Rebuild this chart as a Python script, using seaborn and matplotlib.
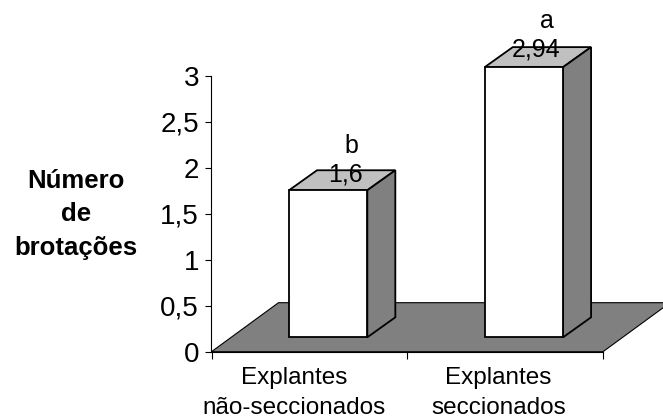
"""Number of shoots per explant type, drawn as a pseudo-3D bar chart."""

import matplotlib

matplotlib.use("Agg")
import matplotlib.pyplot as plt
import pandas as pd
import seaborn as sns
from matplotlib.patches import Polygon
from matplotlib.transforms import ScaledTranslation

categories = ["Explantes\nnão-seccionados", "Explantes\nseccionados"]
values = [1.6, 2.94]
value_labels = ["1,6", "2,94"]
letters = ["b", "a"]
y_ticks = [0, 0.5, 1, 1.5, 2, 2.5, 3]
y_tick_labels = ["0", "0,5", "1", "1,5", "2", "2,5", "3"]
y_title = "Número\nde\nbrotações"

FIG_W, FIG_H = 663, 419
AX_L, AX_R, AX_T, AX_B = 211.5, 603, 76, 351.7

sns.set_style("ticks")
plt.rcParams["font.family"] = ["Liberation Sans", "DejaVu Sans"]

fig = plt.figure(figsize=(FIG_W / 100, FIG_H / 100), dpi=100)
ax = fig.add_axes(
    [AX_L / FIG_W, 1 - AX_B / FIG_H, (AX_R - AX_L) / FIG_W, (AX_B - AX_T) / FIG_H]
)

df = pd.DataFrame({"cat": categories, "val": values})
sns.barplot(
    data=df, x="cat", y="val", color="white", saturation=1, width=0.4,
    edgecolor="black", linewidth=1.3, ax=ax, zorder=3,
)
ax.set_xlim(-0.5, 1.5)
ax.set_ylim(0, 3)

# pixel -> data scale factors for the fake depth
px_x = 2 / (AX_R - AX_L)
px_y = 3 / (AX_B - AX_T)

# floor
floor_dx, floor_dy = 67 * px_x, 49 * px_y
ax.add_patch(Polygon(
    [(-0.5, 0), (1.5, 0), (1.5 + floor_dx, floor_dy), (-0.5 + floor_dx, floor_dy)],
    closed=True, facecolor="#808080", edgecolor="black", linewidth=0.8,
    clip_on=False, zorder=1,
))

# move the bars onto the floor and add their top and side faces
shift_x, base_y = 18.8 * px_x, 14.4 * px_y
depth_x, depth_y = 28 * px_x, 20 * px_y
bars = sorted(ax.containers[0].patches, key=lambda p: p.get_x())
for bar in bars:
    bar.set_x(bar.get_x() + shift_x)
    bar.set_y(base_y)
    bar.set_clip_on(False)
    x0, x1 = bar.get_x(), bar.get_x() + bar.get_width()
    y0, y1 = base_y, base_y + bar.get_height()
    top = [(x0, y1), (x1, y1), (x1 + depth_x, y1 + depth_y), (x0 + depth_x, y1 + depth_y)]
    side = [(x1, y0), (x1 + depth_x, y0 + depth_y), (x1 + depth_x, y1 + depth_y), (x1, y1)]
    ax.add_patch(Polygon(top, closed=True, facecolor="#c0c0c0", edgecolor="black",
                         linewidth=1.3, clip_on=False, zorder=2.5))
    ax.add_patch(Polygon(side, closed=True, facecolor="#808080", edgecolor="black",
                         linewidth=1.3, clip_on=False, zorder=2.5))

# value and letter labels, offsets in pixels from the bar's front top centre
val_off = [(17.3, 8.7), (11.8, 11)]
let_off = [(23.3, 37.5), (22.8, 39.3)]
for i, bar in enumerate(bars):
    cx = bar.get_x() + bar.get_width() / 2
    cy = base_y + bar.get_height()
    ax.annotate(value_labels[i], (cx, cy), xytext=(val_off[i][0] * 0.72, val_off[i][1] * 0.72),
                textcoords="offset points", ha="center", va="baseline", fontsize=18,
                color="black", zorder=5, annotation_clip=False)
    ax.annotate(letters[i], (cx, cy), xytext=(let_off[i][0] * 0.72, let_off[i][1] * 0.72),
                textcoords="offset points", ha="center", va="baseline", fontsize=18,
                color="black", zorder=5, annotation_clip=False)

# axes
sns.despine(ax=ax, top=True, right=True)
for s in ["left", "bottom"]:
    ax.spines[s].set_linewidth(0.8)
    ax.spines[s].set_color("black")
    ax.spines[s].set_zorder(2)
ax.set_yticks(y_ticks, labels=y_tick_labels)
ax.tick_params(axis="y", length=4, width=0.8, pad=5, labelsize=20, labelcolor="black", color="black")

# tick marks sit between the categories, labels on minor ticks
ax.set_xticks([-0.5, 0.5, 1.5], labels=["", "", ""])
ax.set_xticks([0, 1], labels=categories, minor=True)
ax.tick_params(axis="x", which="major", length=5, width=0.8, color="black")
ax.tick_params(axis="x", which="minor", length=0, pad=11, labelsize=17.5, labelcolor="black")
label_shift = [-15.5, -6.5]
for lab, dx in zip(ax.get_xticklabels(minor=True), label_shift):
    lab.set_linespacing(1.5)
    lab.set_transform(lab.get_transform() + ScaledTranslation(dx / 100, 0, fig.dpi_scale_trans))

ax.set_xlabel("")
ax.set_ylabel(y_title, rotation=0, fontsize=18.5, fontweight="bold", ha="center", va="center",
              multialignment="center", linespacing=1.5, color="black")
ax.yaxis.set_label_coords((76 - AX_L) / (AX_R - AX_L), (AX_B - 214) / (AX_B - AX_T))

fig.savefig("out.png", dpi=100, facecolor="white")
